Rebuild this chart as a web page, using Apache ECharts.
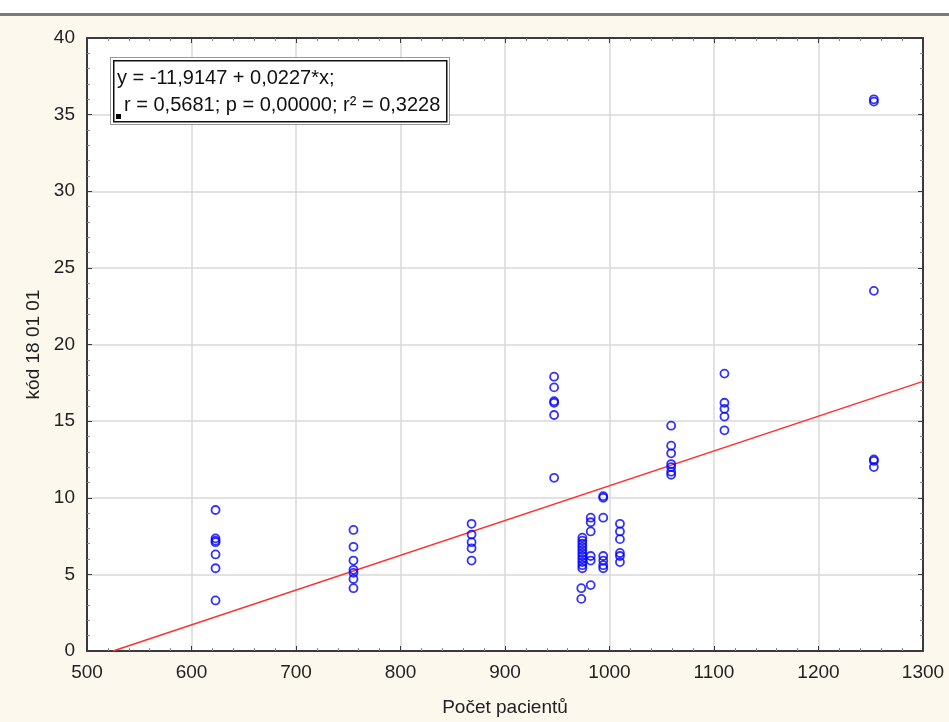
<!DOCTYPE html>
<html>
<head>
<meta charset="utf-8">
<script src="https://cdn.jsdelivr.net/npm/echarts@6/dist/echarts.min.js"></script>
<style>
  html, body { margin: 0; padding: 0; background: #fdf8ed; }
  #chart { width: 949px; height: 722px; }
</style>
</head>
<body>
<div id="chart"></div>
<script>
// Počet pacientů (x) a kód 18 01 01 (y)
var pacienti = [
    623, 623, 623, 623, 623, 623, 623,
    755, 755, 755, 755, 755, 755, 755,
    868, 868, 868, 868, 868,
    947, 947, 947, 947, 947, 947,
    974, 974, 974, 974, 974, 974, 974, 974, 974, 974, 974, 973, 973,
    982, 982, 982, 982, 982, 982,
    994, 994, 994, 994, 994, 994, 994,
    1010, 1010, 1010, 1010, 1010, 1010,
    1059, 1059, 1059, 1059, 1059, 1059, 1059,
    1110, 1110, 1110, 1110, 1110,
    1253, 1253, 1253, 1253, 1253, 1253
];
var kod = [
    9.2, 7.35, 7.2, 7.1, 6.3, 5.4, 3.3,
    7.9, 6.8, 5.9, 5.3, 5.1, 4.7, 4.1,
    8.3, 7.6, 7.1, 6.7, 5.9,
    17.9, 17.2, 16.3, 16.2, 15.4, 11.3,
    7.4, 7.2, 7.0, 6.8, 6.6, 6.4, 6.2, 6.0, 5.8, 5.6, 5.4, 4.1, 3.4,
    8.7, 8.4, 7.8, 6.2, 5.9, 4.3,
    10.1, 10.0, 8.7, 6.2, 5.9, 5.6, 5.4,
    8.3, 7.8, 7.3, 6.4, 6.2, 5.8,
    14.7, 13.4, 12.9, 12.2, 12.0, 11.7, 11.5,
    18.1, 16.2, 15.8, 15.3, 14.4,
    36.0, 35.85, 23.5, 12.5, 12.4, 12.0
];
// regresní přímka
var abs_clen = -11.9147;
var smernice = 0.0227;
var xRozsah = [500, 1300];
var yRozsah = [0, 40];
var rovnice = ['y = -11,9147 + 0,0227*x;', 'r = 0,5681; p = 0,00000; r\u00b2 = 0,3228'];

var body = [];
for (var i = 0; i < pacienti.length; i++) {
    body.push([pacienti[i], kod[i]]);
}
var x0 = -abs_clen / smernice;
var primka = [[x0, 0], [xRozsah[1], abs_clen + smernice * xRozsah[1]]];

var font = 'Liberation Sans, Arial, sans-serif';
var osaBarva = '#3a3a3a';
var popisky = { fontFamily: font, fontSize: 19, color: '#222' };

var chart = echarts.init(document.getElementById('chart'));
var option = {
    backgroundColor: '#fdf8ed',
    animation: false,
    grid: {
        left: 87, right: 26, top: 38, bottom: 71,
        outerBoundsMode: 'none',
        show: true, backgroundColor: '#ffffff', borderWidth: 0
    },
    xAxis: [{
        type: 'value', min: xRozsah[0], max: xRozsah[1], interval: 100,
        name: 'Počet pacientů', nameLocation: 'middle', nameGap: 47,
        nameTextStyle: popisky,
        axisLine: { show: true, onZero: false, lineStyle: { color: osaBarva, width: 2 } },
        axisTick: { show: true, inside: true, length: 5, lineStyle: { color: osaBarva } },
        minorTick: { show: true, splitNumber: 5, length: 3, lineStyle: { color: '#888' } },
        axisLabel: { fontFamily: font, fontSize: 19, color: '#222', margin: 12,
            formatter: function (v) { return String(v); } },
        splitLine: { show: true, lineStyle: { color: '#d9d9d9', width: 1.5 } }
    }, {
        type: 'value', position: 'top', min: xRozsah[0], max: xRozsah[1], interval: 100,
        axisLine: { show: true, onZero: false, lineStyle: { color: osaBarva, width: 2 } },
        axisTick: { show: true, inside: true, length: 5, lineStyle: { color: osaBarva } },
        minorTick: { show: true, splitNumber: 5, length: 3, lineStyle: { color: '#888' } },
        axisLabel: { show: false },
        splitLine: { show: false }
    }],
    yAxis: [{
        type: 'value', min: yRozsah[0], max: yRozsah[1], interval: 5,
        name: 'kód 18 01 01', nameLocation: 'middle', nameGap: 44, nameRotate: 90,
        nameTextStyle: popisky,
        axisLine: { show: true, onZero: false, lineStyle: { color: osaBarva, width: 2 } },
        axisTick: { show: true, inside: true, length: 5, lineStyle: { color: osaBarva } },
        minorTick: { show: true, splitNumber: 5, length: 3, lineStyle: { color: '#888' } },
        axisLabel: { fontFamily: font, fontSize: 19, color: '#222', margin: 12 },
        splitLine: { show: true, lineStyle: { color: '#d9d9d9', width: 1.5 } }
    }, {
        type: 'value', position: 'right', min: yRozsah[0], max: yRozsah[1], interval: 5,
        axisLine: { show: true, onZero: false, lineStyle: { color: osaBarva, width: 2 } },
        axisTick: { show: true, inside: true, length: 5, lineStyle: { color: osaBarva } },
        minorTick: { show: true, splitNumber: 5, length: 3, lineStyle: { color: '#888' } },
        axisLabel: { show: false },
        splitLine: { show: false }
    }],
    series: [{
        name: 'regrese',
        type: 'line',
        data: primka,
        showSymbol: false,
        clip: true,
        lineStyle: { color: '#ff3030', width: 1.5 },
        z: 2
    }, {
        name: 'kód 18 01 01',
        type: 'scatter',
        data: body,
        symbol: 'circle',
        symbolSize: 8,
        itemStyle: { color: 'rgba(255,255,255,0)', borderColor: '#0000ff', borderWidth: 1.8 },
        z: 3
    }],
    graphic: [
        // horní šedý pruh
        { type: 'rect', left: 0, top: 0, shape: { width: 949, height: 13 }, style: { fill: '#ffffff' }, silent: true },
        { type: 'rect', left: 0, top: 13, shape: { width: 949, height: 3 }, style: { fill: '#7a7a7a' }, silent: true },
        // textové pole s rovnicí
        { type: 'rect', left: 110, top: 57, shape: { width: 339, height: 67 },
          style: { fill: '#ffffff', stroke: '#333', lineWidth: 1, lineDash: [1, 1] }, z: 100 },
        { type: 'rect', left: 113, top: 60, shape: { width: 333, height: 61 },
          style: { fill: '#ffffff', stroke: '#111', lineWidth: 1.5 }, z: 101 },
        { type: 'rect', left: 116, top: 114, shape: { width: 5, height: 5 },
          style: { fill: '#000' }, z: 102 },
        { type: 'text', left: 117, top: 68, z: 102,
          style: { text: rovnice[0], fontFamily: font, fontSize: 20, fill: '#111' } },
        { type: 'text', left: 124, top: 95, z: 102,
          style: { text: rovnice[1], fontFamily: font, fontSize: 20, fill: '#111' } }
    ]
};
chart.setOption(option);
window.addEventListener('resize', chart.resize);
</script>
</body>
</html>
